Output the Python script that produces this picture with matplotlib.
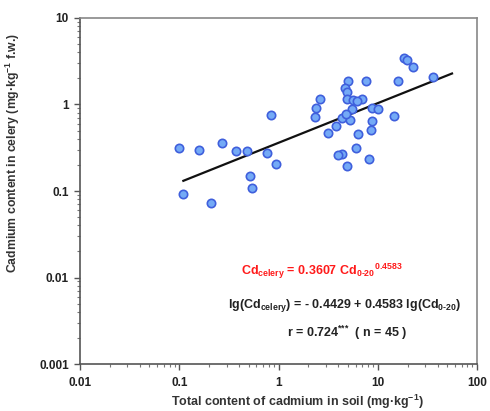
import matplotlib
matplotlib.use('Agg')
import matplotlib.pyplot as plt
import numpy as np

# soil Cd (mg/kg) vs celery Cd (mg/kg f.w.)
soil_cd = [0.10, 0.158, 0.27, 0.373, 0.482, 0.766, 0.944, 0.516, 0.541, 0.109,
           0.209, 0.84, 2.62, 2.39, 2.33, 3.15, 3.80, 4.36, 5.25, 5.50,
           5.01, 4.68, 4.90, 4.90, 5.63, 6.94, 7.62, 8.75, 10.1, 8.75,
           8.55, 6.32, 6.04, 4.36, 3.98, 4.90, 8.17, 14.6, 16.0, 18.4,
           19.7, 22.6, 36.0, 4.79, 6.18]
celery_cd = [0.314, 0.298, 0.359, 0.290, 0.290, 0.275, 0.205, 0.149, 0.108, 0.0923,
             0.0726, 0.756, 1.16, 0.911, 0.717, 0.469, 0.564, 0.698, 0.662, 0.887,
             1.87, 1.55, 1.40, 1.16, 1.13, 1.16, 1.87, 0.911, 0.887, 0.644,
             0.507, 0.456, 0.314, 0.268, 0.261, 0.195, 0.234, 0.736, 1.87, 3.45,
             3.27, 2.71, 2.08, 0.776, 1.10]

# power fit Cd_celery = a * Cd_soil^b
fit_a = 0.3607
fit_b = 0.4583
fit_x = [0.11, 56.0]

xticks = [0.01, 0.1, 1, 10, 100]
xtick_labels = ['0.01', '0.1', '1', '10', '100']
yticks = [0.001, 0.01, 0.1, 1, 10]
ytick_labels = ['0.001', '0.01', '0.1', '1', '10']

plt.rcParams['font.family'] = ['Liberation Sans', 'DejaVu Sans']
plt.rcParams['font.weight'] = 'bold'
plt.rcParams['mathtext.fontset'] = 'custom'
plt.rcParams['mathtext.rm'] = 'Liberation Sans:bold'
plt.rcParams['mathtext.bf'] = 'Liberation Sans:bold'
plt.rcParams['mathtext.it'] = 'Liberation Sans:italic:bold'
plt.rcParams['mathtext.default'] = 'bf'

fig = plt.figure(figsize=(4.9, 4.11), dpi=100)
ax = fig.add_axes([80/490, 1 - 364/411, 397/490, 346/411])

ax.scatter(soil_cd, celery_cd, s=36, facecolor='#74aaf6', edgecolor='#3f5fdc',
           linewidth=1.2, zorder=3)
fx = np.array(fit_x)
ax.plot(fx, fit_a * fx ** fit_b, color='#111111', lw=1.6, zorder=2)

ax.set_xscale('log')
ax.set_yscale('log')
ax.set_xlim(0.01, 100)
ax.set_ylim(0.001, 10)
ax.set_xticks(xticks)
ax.set_xticklabels(xtick_labels)
ax.set_yticks(yticks)
ax.set_yticklabels(ytick_labels)

for side in ['left', 'bottom']:
    ax.spines[side].set_color('#555555')
    ax.spines[side].set_linewidth(1.2)
for side in ['top', 'right']:
    ax.spines[side].set_color('#888888')
    ax.spines[side].set_linewidth(1.2)

ax.tick_params(which='major', direction='out', length=4, width=1, color='#555555',
               labelsize=8.5, labelcolor='#222222')
ax.tick_params(which='minor', direction='out', length=2.5, width=0.8, color='#777777')
ax.tick_params(axis='x', pad=5)
ax.tick_params(axis='y', pad=4)

ax.set_xlabel('Total content of cadmium in soil (mg\u00b7kg$^{-1}$)', fontsize=9,
              fontweight='bold', color='#333333')
ax.xaxis.set_label_coords(0.547, -0.083)
ax.set_ylabel('Cadmium content in celery (mg\u00b7kg$^{-1}$ f.w.)', fontsize=8.8,
              fontweight='bold', color='#333333')
ax.yaxis.set_label_coords(-0.147, 0.61)

ax.text(0.61, 0.268, r'Cd$_{celery}$ = 0.3607 Cd$_{0\text{-}20}{}^{0.4583}$',
        transform=ax.transAxes, ha='center', va='center', fontsize=9,
        color='#ff1a1a', fontweight='bold')
ax.text(0.667, 0.17, r'lg(Cd$_{celery}$) = - 0.4429 + 0.4583 lg(Cd$_{0\text{-}20}$)',
        transform=ax.transAxes, ha='center', va='center', fontsize=9,
        color='#222222', fontweight='bold')
ax.text(0.672, 0.09, r'r = 0.724$^{{*}{*}{*}}$  ( n = 45 )',
        transform=ax.transAxes, ha='center', va='center', fontsize=9,
        color='#222222', fontweight='bold')

fig.savefig('out.png', dpi=100)
